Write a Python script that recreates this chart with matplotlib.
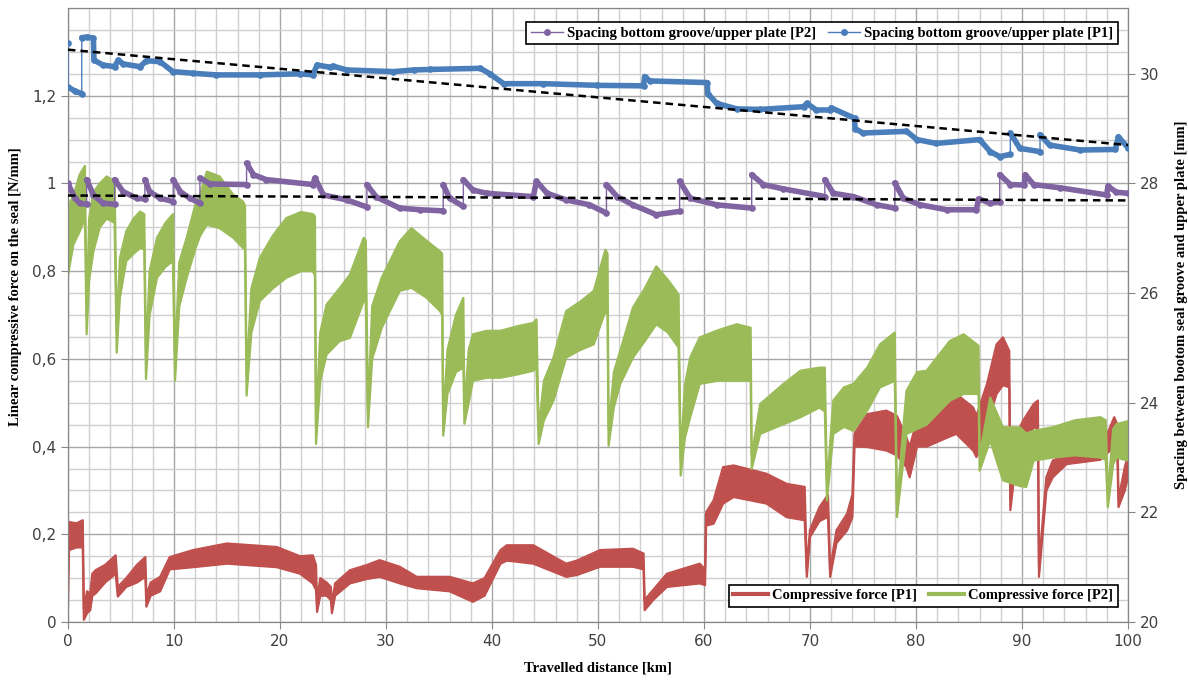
import matplotlib
matplotlib.use("Agg")
import matplotlib.pyplot as plt
import numpy as np
from matplotlib.lines import Line2D
from matplotlib.ticker import MultipleLocator

# spacing bottom groove / upper plate [mm] (right axis)
p1_sp_x = [0, 0, 0.7, 1.3, 1.3, 1.8, 2.4, 2.45, 3.3, 4.4, 4.75, 5.2, 6.8, 7.4, 8.7, 9.9,
           11.8, 14.0, 18.1, 21.9, 23.1, 23.5, 24.7, 25.0, 26.3, 30.7, 32.6, 34.2, 38.9,
           39.8, 41.1, 44.8, 49.9, 54.3, 54.4, 54.9, 60.3, 60.35, 61.2, 63.1, 65.3, 69.4,
           69.7, 70.6, 71.9, 72.0, 74.2, 74.25, 75.0, 79.1, 80.1, 81.9, 86.0, 87.0, 87.9,
           88.9, 88.9, 89.8, 91.7, 91.7, 92.6, 95.5, 98.8, 99.1, 100]
p1_sp_y = [30.56, 29.76, 29.68, 29.64, 30.66, 30.67, 30.65, 30.25, 30.16, 30.13, 30.25,
           30.18, 30.13, 30.24, 30.22, 30.04, 30.01, 29.98, 29.98, 30.0, 29.98, 30.16,
           30.12, 30.14, 30.07, 30.04, 30.07, 30.08, 30.1, 30.0, 29.82, 29.82, 29.79,
           29.78, 29.95, 29.87, 29.84, 29.64, 29.46, 29.36, 29.35, 29.40, 29.46, 29.34,
           29.34, 29.38, 29.19, 29.0, 28.92, 28.95, 28.80, 28.73, 28.80, 28.58, 28.49,
           28.53, 28.92, 28.64, 28.58, 28.89, 28.70, 28.61, 28.62, 28.85, 28.65]

p2_sp_x = [0, 0.66, 1.1, 1.76, 1.76, 2.4, 3.3, 4.4, 4.4, 5.2, 6.5, 7.26, 7.26, 7.7, 8.7,
           9.93, 9.93, 10.6, 11.5, 12.45, 12.45, 13.4, 16.85, 16.85, 17.5, 18.7, 23.1,
           23.3, 24.1, 26.3, 28.2, 28.2, 29.1, 31.3, 33.2, 35.4, 35.4, 36.0, 37.3, 37.3,
           38.2, 39.5, 43.9, 44.2, 45.2, 47.0, 49.2, 50.8, 50.8, 51.8, 53.3, 55.5, 57.7,
           57.7, 58.7, 61.2, 64.5, 64.5, 65.6, 67.5, 70.9, 71.4, 71.4, 72.2, 74.1, 76.3,
           78.0, 78.0, 78.8, 80.4, 82.9, 85.7, 85.9, 87.0, 87.9, 87.9, 88.9, 90.2, 90.3,
           91.1, 93.6, 98.0, 98.1, 98.9, 100]
p2_sp_y = [28.0, 27.73, 27.64, 27.62, 28.07, 27.79, 27.64, 27.62, 28.07, 27.85, 27.73,
           27.72, 28.07, 27.85, 27.73, 27.67, 28.07, 27.85, 27.73, 27.64, 28.1, 27.99,
           27.98, 28.37, 28.16, 28.07, 27.98, 28.1, 27.79, 27.70, 27.57, 27.98, 27.75,
           27.55, 27.52, 27.5, 27.98, 27.73, 27.58, 28.07, 27.88, 27.82, 27.76, 28.04,
           27.82, 27.70, 27.61, 27.46, 27.98, 27.76, 27.61, 27.43, 27.49, 28.04, 27.73,
           27.61, 27.55, 28.16, 27.98, 27.9, 27.78, 27.76, 28.07, 27.82, 27.76, 27.61,
           27.55, 28.01, 27.73, 27.61, 27.52, 27.52, 27.72, 27.64, 27.67, 28.16, 27.98,
           27.97, 28.16, 27.98, 27.92, 27.79, 27.95, 27.84, 27.82]

# linear trend lines (right axis)
trend_x = [0, 100]
trend_p1 = [30.44, 28.70]
trend_p2 = [27.78, 27.69]

# compressive force [N/mm] (left axis): band lower / upper envelope
f2_x = [0, 0.5, 1.1, 1.6, 1.76, 2.0, 2.4, 3.0, 3.65, 4.4, 4.6, 4.9, 5.5, 6.2, 6.8, 7.2,
        7.36, 7.7, 8.4, 9.2, 9.9, 10.1, 10.5, 11.2, 12.0, 12.45, 13.1, 14.3, 15.6, 16.5,
        16.7, 16.85, 17.3, 18.1, 19.3, 20.6, 22.0, 23.1, 23.3, 23.4, 23.8, 24.4, 25.6,
        26.6, 27.9, 28.1, 28.3, 28.7, 29.6, 31.3, 32.4, 33.8, 35.1, 35.3, 35.4, 35.8,
        36.6, 37.3, 37.4, 37.8, 38.2, 39.5, 40.8, 42.5, 43.9, 44.2, 44.4, 44.9, 45.8,
        47.0, 48.3, 49.6, 50.7, 50.9, 51.0, 51.5, 52.1, 53.3, 54.4, 55.5, 56.6, 57.6,
        57.8, 58.2, 58.7, 59.6, 61.3, 63.1, 64.4, 64.5, 65.3, 67.5, 69.1, 70.9, 71.4,
        71.6, 72.2, 73.2, 74.1, 75.4, 76.6, 78.0, 78.2, 79.1, 80.1, 81.0, 83.2, 84.5,
        85.9, 86.0, 87.0, 88.2, 89.8, 90.4, 91.1, 92.9, 95.0, 97.4, 97.9, 98.1, 98.6,
        98.9, 100]
f2_lo = [0.79, 0.86, 0.89, 0.92, 0.656, 0.78, 0.845, 0.90, 0.92, 0.91, 0.614, 0.74,
         0.823, 0.84, 0.853, 0.85, 0.554, 0.70, 0.785, 0.81, 0.823, 0.55, 0.72, 0.785,
         0.85, 0.88, 0.906, 0.898, 0.876, 0.853, 0.85, 0.516, 0.66, 0.732, 0.76, 0.785,
         0.80, 0.80, 0.79, 0.406, 0.55, 0.61, 0.64, 0.648, 0.732, 0.73, 0.444, 0.60,
         0.671, 0.755, 0.762, 0.74, 0.709, 0.70, 0.425, 0.52, 0.57, 0.58, 0.452, 0.50,
         0.55, 0.557, 0.557, 0.565, 0.573, 0.58, 0.406, 0.46, 0.505, 0.603, 0.62, 0.633,
         0.709, 0.70, 0.402, 0.49, 0.543, 0.603, 0.64, 0.679, 0.66, 0.626, 0.334, 0.42,
         0.467, 0.543, 0.55, 0.55, 0.55, 0.349, 0.429, 0.451, 0.467, 0.489, 0.48, 0.277,
         0.429, 0.445, 0.436, 0.482, 0.535, 0.55, 0.239, 0.429, 0.44, 0.45, 0.505, 0.52,
         0.52, 0.345, 0.414, 0.323, 0.31, 0.308, 0.368, 0.375, 0.38, 0.375, 0.37, 0.262,
         0.36, 0.375, 0.368]
f2_hi = [0.95, 0.97, 1.02, 1.04, 0.70, 0.92, 0.98, 1.0, 1.016, 1.005, 0.66, 0.83, 0.891,
         0.92, 0.936, 0.93, 0.60, 0.80, 0.876, 0.91, 0.93, 0.60, 0.82, 0.876, 0.95, 0.974,
         1.027, 1.016, 0.974, 0.959, 0.95, 0.56, 0.76, 0.83, 0.88, 0.921, 0.935, 0.93,
         0.925, 0.45, 0.66, 0.724, 0.76, 0.792, 0.876, 0.87, 0.48, 0.72, 0.785, 0.868,
         0.898, 0.87, 0.845, 0.84, 0.46, 0.62, 0.70, 0.739, 0.48, 0.62, 0.656, 0.664,
         0.664, 0.675, 0.682, 0.69, 0.44, 0.55, 0.603, 0.709, 0.73, 0.755, 0.849, 0.84,
         0.44, 0.57, 0.618, 0.717, 0.76, 0.811, 0.78, 0.747, 0.37, 0.54, 0.603, 0.649,
         0.665, 0.679, 0.671, 0.38, 0.497, 0.543, 0.573, 0.580, 0.58, 0.31, 0.505, 0.535,
         0.543, 0.58, 0.633, 0.66, 0.27, 0.527, 0.57, 0.573, 0.641, 0.656, 0.63, 0.38,
         0.512, 0.444, 0.444, 0.43, 0.436, 0.444, 0.46, 0.467, 0.46, 0.29, 0.44, 0.451,
         0.458]

f1_x = [0, 0.1, 0.8, 1.4, 1.5, 1.8, 2.1, 2.3, 2.6, 3.5, 4.5, 4.7, 5.5, 6.5, 7.3, 7.4,
        7.8, 8.7, 9.6, 11.8, 15.0, 19.7, 21.9, 23.1, 23.4, 23.5, 23.8, 24.4, 24.8, 24.9,
        25.2, 26.6, 28.2, 29.4, 31.3, 32.9, 36.0, 38.2, 39.3, 40.8, 41.4, 43.9, 47.0,
        48.0, 50.2, 53.3, 54.3, 54.4, 55.2, 56.5, 59.6, 60.1, 60.2, 60.9, 61.8, 62.8,
        65.9, 67.8, 69.5, 69.7, 70.0, 70.9, 71.7, 71.9, 72.5, 73.5, 74.0, 74.2, 75.4,
        77.2, 78.2, 79.1, 79.4, 80.1, 81.0, 82.9, 83.8, 85.4, 85.7, 86.7, 87.6, 88.2,
        88.8, 88.9, 89.5, 90.1, 91.1, 91.5, 91.6, 92.3, 92.9, 94.2, 97.4, 98.7, 99.0,
        99.1, 99.7, 100]
f1_lo = [0.035, 0.164, 0.17, 0.17, 0.005, 0.02, 0.027, 0.06, 0.065, 0.09, 0.11, 0.058,
         0.08, 0.09, 0.103, 0.035, 0.06, 0.07, 0.12, 0.125, 0.133, 0.125, 0.11, 0.088,
         0.073, 0.023, 0.06, 0.06, 0.05, 0.02, 0.06, 0.088, 0.098, 0.103, 0.088, 0.077,
         0.07, 0.046, 0.06, 0.133, 0.14, 0.133, 0.103, 0.107, 0.126, 0.126, 0.12, 0.027,
         0.05, 0.08, 0.088, 0.084, 0.22, 0.224, 0.27, 0.285, 0.27, 0.239, 0.232, 0.103,
         0.194, 0.23, 0.24, 0.103, 0.18, 0.209, 0.239, 0.40, 0.399, 0.391, 0.38, 0.353,
         0.33, 0.40, 0.40, 0.42, 0.429, 0.391, 0.376, 0.45, 0.52, 0.54, 0.535, 0.255,
         0.38, 0.40, 0.444, 0.44, 0.103, 0.30, 0.33, 0.36, 0.37, 0.40, 0.38, 0.262, 0.30,
         0.33]
f1_hi = [0.22, 0.228, 0.225, 0.232, 0.03, 0.07, 0.065, 0.11, 0.118, 0.13, 0.152, 0.08,
         0.10, 0.13, 0.148, 0.06, 0.09, 0.103, 0.148, 0.164, 0.179, 0.171, 0.15, 0.152,
         0.13, 0.05, 0.10, 0.09, 0.08, 0.04, 0.088, 0.118, 0.13, 0.141, 0.126, 0.103,
         0.103, 0.088, 0.10, 0.164, 0.175, 0.175, 0.133, 0.14, 0.164, 0.167, 0.156, 0.05,
         0.073, 0.11, 0.133, 0.12, 0.25, 0.277, 0.353, 0.357, 0.338, 0.315, 0.308, 0.12,
         0.21, 0.262, 0.29, 0.12, 0.209, 0.247, 0.29, 0.43, 0.474, 0.482, 0.47, 0.42,
         0.40, 0.459, 0.47, 0.505, 0.52, 0.489, 0.47, 0.543, 0.633, 0.649, 0.618, 0.28,
         0.429, 0.459, 0.497, 0.505, 0.13, 0.33, 0.368, 0.383, 0.391, 0.467, 0.45, 0.28,
         0.353, 0.38]

c_p1_sp = "#4a7ebb"
c_p2_sp = "#8064a2"
c_f1 = "#c0504d"
c_f2 = "#9bbb59"
serif = {"family": "Liberation Serif", "weight": "bold", "size": 10.5}

fig = plt.figure(figsize=(11.88, 6.8), dpi=100)
ax = fig.add_axes([0.0572, 0.0853, 0.8923, 0.9029])
ax2 = ax.twinx()

# force bands
for x, lo, hi, c in [(f1_x, f1_lo, f1_hi, c_f1), (f2_x, f2_lo, f2_hi, c_f2)]:
    ax.fill_between(x, lo, hi, color=c, lw=0, zorder=2)
    ax.plot(x, lo, color=c, lw=1.6, zorder=2)
    ax.plot(x, hi, color=c, lw=1.6, zorder=2)

ax.set_xlim(0, 100)
ax.set_ylim(0, 1.4)
ax.xaxis.set_major_locator(MultipleLocator(10))
ax.xaxis.set_minor_locator(MultipleLocator(2))
ax.set_yticks([0, 0.2, 0.4, 0.6, 0.8, 1.0, 1.2])
ax.set_yticklabels(["0", "0,2", "0,4", "0,6", "0,8", "1", "1,2"])
ax.yaxis.set_minor_locator(MultipleLocator(0.05))
ax.grid(which="major", color="#a6a6a6", lw=1.0, zorder=0)
ax.grid(which="minor", color="#cfcfcf", lw=1.0, zorder=0)
ax.set_axisbelow(True)
ax.tick_params(which="minor", length=0)
ax.tick_params(which="major", length=5, color="#868686", labelsize=11, labelcolor="#404040")

# spacing lines: thin connecting line + thick marker trace broken at vertical jumps
def spacing_plot(x, y, c):
    ax2.plot(x, y, color=c, lw=1.0, zorder=3)
    xs, ys = [], []
    for i in range(len(x)):
        if i > 0 and x[i] == x[i - 1]:
            xs.append(np.nan)
            ys.append(np.nan)
        xs.append(x[i])
        ys.append(y[i])
    ax2.plot(xs, ys, color=c, lw=4.0, marker="o", ms=4.8, mew=0,
             solid_capstyle="round", solid_joinstyle="round", zorder=3)

spacing_plot(p2_sp_x, p2_sp_y, c_p2_sp)
spacing_plot(p1_sp_x, p1_sp_y, c_p1_sp)
ax2.plot(trend_x, trend_p1, color="black", lw=1.8, ls=(0, (3, 2)), zorder=4)
ax2.plot(trend_x, trend_p2, color="black", lw=1.8, ls=(0, (3, 2)), zorder=4)

ax2.set_ylim(20, 31.2)
ax2.set_yticks([20, 22, 24, 26, 28, 30])
ax2.tick_params(length=5, color="#868686", labelsize=11, labelcolor="#404040")
for a in (ax, ax2):
    for s in a.spines.values():
        s.set_color("#868686")

ax.set_xlabel("Travelled distance [km]", fontdict=serif)
ax.xaxis.set_label_coords(0.5, -0.065)
ax.set_ylabel("Linear compressive force on the seal [N/mm]", fontdict=serif)
ax.yaxis.set_label_coords(-0.0434, 0.547)
ax2.set_ylabel("Spacing between bootom seal groove and upper plate [mm]", fontdict=serif)
ax2.yaxis.set_label_coords(1.044, 0.516)

legprops = dict(prop=serif, frameon=True, fancybox=False, edgecolor="black",
                borderpad=0.3, handletextpad=0.3, columnspacing=0.8, ncol=2,
                bbox_transform=fig.transFigure, framealpha=1)
h_top = [Line2D([], [], color=c_p2_sp, lw=1, marker="o", ms=4),
         Line2D([], [], color=c_p1_sp, lw=1, marker="o", ms=4)]
leg1 = ax2.legend(h_top, ["Spacing bottom groove/upper plate [P2]",
                          "Spacing bottom groove/upper plate [P1]"],
                  loc="upper right", bbox_to_anchor=(0.947, 0.978), handlelength=2.2,
                  **legprops)
leg1.get_frame().set_linewidth(1.2)
ax2.add_artist(leg1)
h_bot = [Line2D([], [], color=c_f1, lw=3), Line2D([], [], color=c_f2, lw=3)]
leg2 = ax2.legend(h_bot, ["Compressive force [P1]", "Compressive force [P2]"],
                  loc="lower right", bbox_to_anchor=(0.947, 0.097), handlelength=2.4,
                  **legprops)
leg2.get_frame().set_linewidth(1.2)

fig.savefig("out.png", dpi=100)
